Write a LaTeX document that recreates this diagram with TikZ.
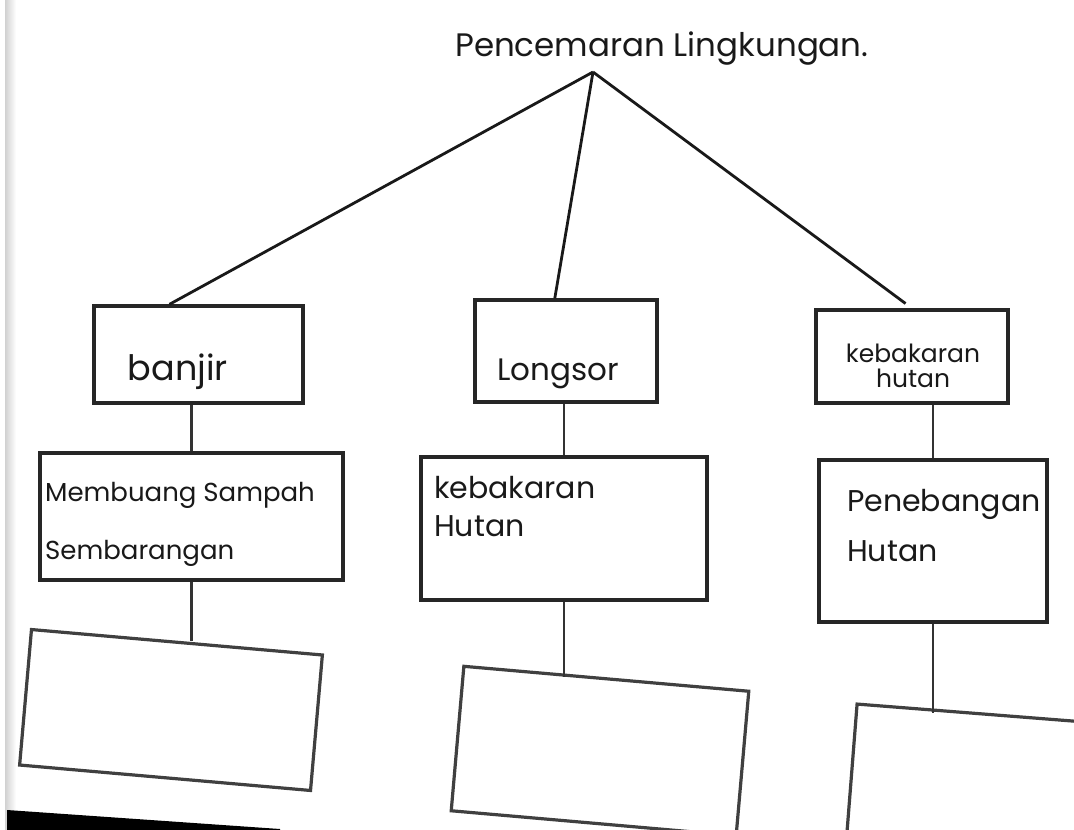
\documentclass[tikz,border=0pt]{standalone}
\usepackage{fontspec}
\setmainfont{Poppins}
\usetikzlibrary{positioning}
\tikzset{
  kotak/.style={draw=black!85, line width=3.4pt, rectangle, inner sep=0pt},
  kosong/.style={draw=black!75, line width=3.2pt, rectangle, inner sep=0pt, rotate=-5},
  garis/.style={draw=black!80, line width=2.4pt},
  cabang/.style={draw=black!90, line width=2.8pt},
  tulisan/.style={inner sep=0pt, align=left, text=black!90},
}
\begin{document}
\begin{tikzpicture}[x=1pt, y=-1pt]
    \useasboundingbox (0,0) rectangle (1074,830);
    \clip (0,0) rectangle (1074,830);
    \fill[white] (0,0) rectangle (1074,830);

    % Scan edges
    \fill[left color=black!18, right color=white] (5,0) rectangle (16,830);
    \fill[black] (7,810) -- (280,829) -- (280,830) -- (7,830) -- cycle;

    % Title
    \node[tulisan, anchor=base west, font=\fontsize{32.5}{38}\selectfont] (judul) at (455,56) {Pencemaran Lingkungan.};
    \coordinate (puncak) at (593,72);

    % First level
    \node[kotak, minimum width=209, minimum height=97] (banjir) at (198.5,354.5) {};
    \node[kotak, minimum width=182, minimum height=102] (longsor) at (566,351) {};
    \node[kotak, minimum width=192, minimum height=93] (kbh) at (912,356.5) {};

    \node[tulisan, anchor=base, font=\fontsize{35}{40}\selectfont] (tbanjir) at (178,380) {banjir};
    \node[tulisan, anchor=base, font=\fontsize{31}{36}\selectfont] (tlongsor) at (558,380) {Longsor};
    \node[tulisan, anchor=north, align=center, font=\fontsize{25}{25}\selectfont] (tkbh) at (913,344) {kebakaran\\hutan};

    % Second level
    \node[kotak, minimum width=303, minimum height=127] (sampah) at (191.5,516.5) {};
    \node[kotak, minimum width=286, minimum height=143] (kb) at (564,528.5) {};
    \node[kotak, minimum width=228, minimum height=162] (tebang) at (933,541) {};

    \node[tulisan, anchor=north west, font=\fontsize{26}{58}\selectfont] (tsampah) at (45,482)
        {Membuang Sampah\\Sembarangan};
    \node[tulisan, anchor=north west, font=\fontsize{30}{38}\selectfont] (tkb) at (434,476)
        {kebakaran\\Hutan};
    \node[tulisan, anchor=north west, font=\fontsize{30}{50}\selectfont] (ttebang) at (847,489)
        {Penebangan\\Hutan};

    % Empty boxes
    \node[kosong, minimum width=292, minimum height=136] (kosongA) at (171,710) {};
    \node[kosong, minimum width=286, minimum height=145] (kosongB) at (600,751) {};
    \node[kosong, rotate=0.5, minimum width=260, minimum height=170] (kosongC) at (980,799) {};

    % Branches from the title
    \draw[cabang] (puncak) -- (banjir.120);
    \draw[cabang] (puncak) -- (longsor.102);
    \draw[cabang, shorten >=8pt] (puncak) -- (kbh.north);

    % Vertical links
    \draw[garis] (sampah.north) -- (sampah.north |- banjir.south);
    \draw[garis] (kb.north) -- (kb.north |- longsor.south);
    \draw[garis] (tebang.north) -- (tebang.north |- kbh.south);
    \draw[garis] (sampah.south) -- (sampah.south |- kosongA.north);
    \draw[garis] (kb.south) -- (kb.south |- kosongB.north);
    \draw[garis] (tebang.south) -- (tebang.south |- kosongC.north);
\end{tikzpicture}
\end{document}
